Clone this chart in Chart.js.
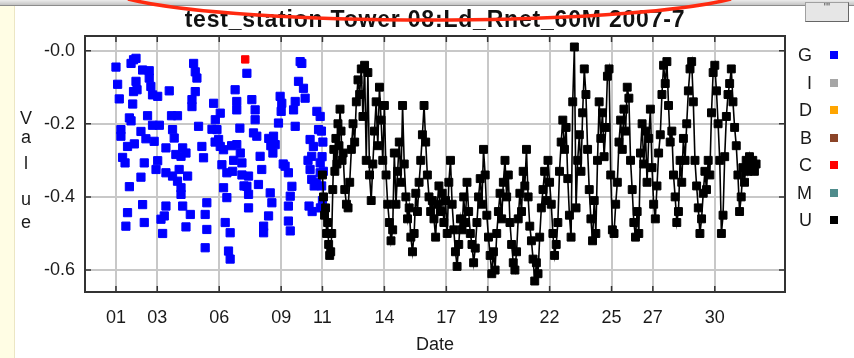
<!DOCTYPE html>
<html>
<head>
<meta charset="utf-8">
<script src="https://cdn.jsdelivr.net/npm/chart.js@4.4.0/dist/chart.umd.min.js"></script>
<style>
  html, body { margin: 0; padding: 0; background: #fff; }
  #wrap { position: relative; width: 854px; height: 358px; overflow: hidden; font-family: "Liberation Sans", Arial, sans-serif; color: #1a1a1a; }
  #chart { position: absolute; left: 0; top: 0; }
  #strip { position: absolute; left: 0; top: 6px; width: 14px; height: 352px; background: #fffde4; border-right: 1px solid #ece6c4; }
  #topbar { position: absolute; left: 0; top: 0; width: 854px; height: 5px; background: linear-gradient(#ececec, #c4c4c4); border-bottom: 1px solid #8c8c8c; }
  #btn { position: absolute; left: 805px; top: 2px; width: 42px; height: 18px; background: #e6e6e6; border: 1px solid #a0a0a0; border-right-color: #666; border-bottom-color: #666; font-size: 11px; line-height: 9px; text-align: center; color: #444; }
  #title { position: absolute; left: 0; top: 6px; width: 870px; text-align: center; font-weight: bold; font-size: 23px; letter-spacing: 0.8px; line-height: 26px; color: #111; }
  #arc { position: absolute; left: 0; top: 0; z-index: 5; }
  .yl { position: absolute; left: 18px; width: 16px; text-align: center; font-size: 18px; line-height: 20px; }
  .lg { position: absolute; left: 786px; width: 26px; text-align: right; font-size: 18px; line-height: 20px; }
  .lb { position: absolute; left: 830px; width: 8px; height: 8px; }
</style>
</head>
<body>
<div id="wrap">
  <canvas id="chart" width="854" height="358"></canvas>
  <div id="strip"></div>
  <div id="title">test_station Tower 08:Ld_Rnet_60M 2007-7</div>
  <div class="yl" style="top:108px">V</div>
  <div class="yl" style="top:127px">a</div>
  <div class="yl" style="top:153px">l</div>
  <div class="yl" style="top:189px">u</div>
  <div class="yl" style="top:212px">e</div>
  <div id="legend"></div>
  <div id="topbar"></div>
  <div id="btn">'''</div>
  <svg id="arc" width="854" height="40"><path d="M 128 -1 C 240 27, 620 27, 731 -1" fill="none" stroke="#ff2a10" stroke-width="3.5"/></svg>
</div>
<script>
// x tick positions (day of month) and labels
const xTicks = [1, 3, 6, 9, 11, 14, 17, 19, 22, 25, 27, 30];
const xTickLabels = ["01", "03", "06", "09", "11", "14", "17", "19", "22", "25", "27", "30"];
const yTicks = [0, -0.2, -0.4, -0.6];
const yTickLabels = ["-0.0", "-0.2", "-0.4", "-0.6"];

const legendNames = ["G", "I", "D", "B", "C", "M", "U"];
const legendColors = ["#0000ff", "#a6a6a6", "#ffa500", "#8b4428", "#ff0000", "#4f8c8c", "#000000"];

// G series (blue, points only)
const gDays = [1.00, 1.08, 1.16, 1.24, 1.24, 1.32, 1.44, 1.48, 1.56, 1.56, 1.65, 1.65, 1.73, 1.73, 1.81, 1.85, 1.85, 1.89, 1.97, 1.97,
  2.02, 2.21, 2.21, 2.29, 2.29, 2.37, 2.37, 2.45, 2.53, 2.61, 2.61, 2.69, 2.77, 2.77, 2.85, 2.94, 3.02, 3.02, 3.10, 3.18,
  3.26, 3.34, 3.42, 3.42, 3.42, 3.58, 3.69, 3.74, 3.74, 3.82, 3.90, 3.98, 3.98, 4.06, 4.15, 4.15, 4.15, 4.23, 4.23, 4.39,
  4.39, 4.47, 4.60, 4.68, 4.68, 4.76, 4.84, 4.84, 4.92, 5.00, 5.16, 5.24, 5.32, 5.32, 5.40, 5.40, 5.65, 5.73, 5.80, 5.81,
  5.89, 5.97, 6.05, 6.05, 6.13, 6.21, 6.21, 6.29, 6.37, 6.37, 6.45, 6.53, 6.53, 6.60, 6.65, 6.70, 6.77, 6.85, 6.85, 6.85,
  7.00, 7.02, 7.10, 7.10, 7.20, 7.34, 7.34, 7.42, 7.42, 7.42, 7.58, 7.66, 7.74, 7.74, 7.82, 7.90, 7.98, 8.06, 8.15, 8.15,
  8.39, 8.40, 8.47, 8.50, 8.55, 8.60, 8.63, 8.71, 8.87, 8.95, 9.00, 9.03, 9.10, 9.19, 9.35, 9.35, 9.35, 9.44, 9.44, 9.52,
  9.60, 9.68, 9.68, 9.84, 9.92, 10.00, 10.08, 10.16, 10.30, 10.35, 10.40, 10.40, 10.48, 10.48, 10.50, 10.56, 10.60, 10.70, 10.73, 10.81,
  10.89, 10.89, 10.89, 10.95, 11.02, 10.98, 11.04, 10.96, 11.00, 10.90];
const gValues = [-0.045, -0.092, -0.132, -0.216, -0.234, -0.292, -0.307, -0.480, -0.443, -0.262, -0.184, -0.372, -0.192, -0.035, -0.146, -0.025, -0.112, -0.255, -0.021, -0.084,
  -0.107, -0.221, -0.346, -0.053, -0.421, -0.307, -0.470, -0.241, -0.178, -0.055, -0.075, -0.098, -0.121, -0.204, -0.248, -0.325, -0.125, -0.301, -0.204, -0.461,
  -0.500, -0.452, -0.266, -0.334, -0.425, -0.110, -0.178, -0.216, -0.343, -0.239, -0.284, -0.178, -0.357, -0.325, -0.289, -0.375, -0.393, -0.266, -0.425, -0.280,
  -0.482, -0.343, -0.448, -0.134, -0.153, -0.035, -0.058, -0.112, -0.075, -0.207, -0.262, -0.293, -0.448, -0.539, -0.416, -0.489, -0.215, -0.144, -0.250, -0.189,
  -0.216, -0.243, -0.171, -0.262, -0.312, -0.271, -0.375, -0.470, -0.334, -0.402, -0.548, -0.498, -0.570, -0.260, -0.330, -0.300, -0.107, -0.139, -0.162, -0.257,
  -0.212, -0.280, -0.307, -0.340, -0.370, -0.062, -0.371, -0.343, -0.393, -0.430, -0.134, -0.225, -0.162, -0.189, -0.234, -0.366, -0.289, -0.325, -0.480, -0.498,
  -0.452, -0.240, -0.389, -0.260, -0.416, -0.280, -0.234, -0.257, -0.198, -0.125, -0.166, -0.144, -0.310, -0.316, -0.334, -0.425, -0.466, -0.398, -0.493, -0.371,
  -0.162, -0.139, -0.207, -0.084, -0.030, -0.035, -0.103, -0.130, -0.300, -0.425, -0.243, -0.325, -0.289, -0.352, -0.440, -0.262, -0.370, -0.360, -0.166, -0.216,
  -0.180, -0.307, -0.334, -0.220, -0.250, -0.290, -0.330, -0.370, -0.410, -0.430];

// C series (red)
const cDays = [7.26];
const cValues = [-0.024];

// U series (black, joined)
const uDays = [11.00, 11.05, 11.10, 11.15, 11.20, 11.25, 11.30, 11.35, 11.40, 11.45, 11.50, 11.55, 11.60, 11.65, 11.70, 11.75, 11.80, 11.85, 11.90, 11.95,
  12.00, 12.08, 12.16, 12.24, 12.32, 12.40, 12.48, 12.56, 12.64, 12.72, 12.80, 12.88, 12.96,
  13.04, 13.12, 13.20, 13.28, 13.36, 13.44, 13.52, 13.60, 13.68, 13.76, 13.84, 13.92,
  14.00, 14.08, 14.16, 14.24, 14.32, 14.40, 14.48, 14.56, 14.64, 14.72, 14.80, 14.88, 14.96,
  15.04, 15.12, 15.20, 15.28, 15.36, 15.44, 15.52, 15.60, 15.68, 15.76, 15.84, 15.92,
  16.00, 16.08, 16.16, 16.24, 16.32, 16.40, 16.48, 16.56, 16.64, 16.72, 16.80, 16.88, 16.96,
  17.04, 17.12, 17.20, 17.28, 17.36, 17.44, 17.52, 17.60, 17.68, 17.76, 17.84, 17.92,
  18.00, 18.08, 18.16, 18.24, 18.32, 18.40, 18.48, 18.56, 18.64, 18.72, 18.80, 18.88, 18.96,
  19.04, 19.12, 19.20, 19.28, 19.36, 19.44, 19.52, 19.60, 19.68, 19.76, 19.84, 19.92,
  20.00, 20.08, 20.16, 20.24, 20.32, 20.40, 20.48, 20.56, 20.64, 20.72, 20.80, 20.88, 20.96,
  21.04, 21.12, 21.20, 21.28, 21.36, 21.44, 21.52, 21.60, 21.68, 21.76, 21.84, 21.92,
  22.00, 22.08, 22.16, 22.24, 22.32, 22.40, 22.48, 22.56, 22.64, 22.72, 22.80, 22.88, 22.96,
  23.04, 23.12, 23.20, 23.28, 23.36, 23.44, 23.52, 23.60, 23.68, 23.76, 23.84, 23.92,
  24.00, 24.08, 24.16, 24.24, 24.32, 24.40, 24.48, 24.56, 24.64, 24.72, 24.80, 24.88, 24.96,
  25.04, 25.12, 25.20, 25.28, 25.36, 25.44, 25.52, 25.60, 25.68, 25.76, 25.84, 25.92,
  26.00, 26.08, 26.16, 26.24, 26.32, 26.40, 26.48, 26.56, 26.64, 26.72, 26.80, 26.88, 26.96,
  27.04, 27.12, 27.20, 27.28, 27.36, 27.44, 27.52, 27.60, 27.68, 27.76, 27.84, 27.92,
  28.00, 28.08, 28.16, 28.24, 28.32, 28.40, 28.48, 28.56, 28.64, 28.72, 28.80, 28.88, 28.96,
  29.04, 29.12, 29.20, 29.28, 29.36, 29.44, 29.52, 29.60, 29.68, 29.76, 29.84, 29.92,
  30.00, 30.08, 30.16, 30.24, 30.32, 30.40, 30.48, 30.56, 30.64, 30.72, 30.80, 30.88, 30.96,
  31.04, 31.12, 31.20, 31.28, 31.36, 31.44, 31.52, 31.60, 31.68, 31.76, 31.84, 31.92,
  32.00];
const uValues = [-0.34, -0.40, -0.45, -0.43, -0.50, -0.47, -0.53, -0.56, -0.55, -0.50, -0.38, -0.27, -0.33, -0.24, -0.31, -0.20, -0.26, -0.16, -0.22, -0.30,
  -0.28, -0.38, -0.42, -0.43, -0.36, -0.27, -0.20, -0.25, -0.14, -0.08, -0.12, -0.05, -0.18,
  -0.04, -0.30, -0.06, -0.34, -0.41, -0.31, -0.22, -0.14, -0.26, -0.10, -0.19, -0.30,
  -0.15, -0.34, -0.42, -0.47, -0.52, -0.49, -0.28, -0.42, -0.33, -0.25, -0.36, -0.15, -0.31,
  -0.40, -0.46, -0.43, -0.51, -0.55, -0.50, -0.39, -0.44, -0.36, -0.30, -0.23, -0.15,
  -0.25, -0.34, -0.40, -0.44, -0.41, -0.46, -0.51, -0.42, -0.37, -0.44, -0.39, -0.47, -0.41,
  -0.50, -0.36, -0.30, -0.42, -0.49, -0.55, -0.59, -0.53, -0.46, -0.49, -0.40, -0.47,
  -0.36, -0.44, -0.50, -0.53, -0.58, -0.54, -0.47, -0.40, -0.35, -0.42, -0.27, -0.34, -0.45,
  -0.51, -0.56, -0.61, -0.55, -0.60, -0.50, -0.44, -0.39, -0.46, -0.36, -0.30, -0.40,
  -0.34, -0.47, -0.53, -0.58, -0.60, -0.55, -0.46, -0.39, -0.44, -0.33, -0.37, -0.27, -0.40,
  -0.48, -0.52, -0.57, -0.63, -0.58, -0.61, -0.51, -0.43, -0.38, -0.33, -0.41, -0.30,
  -0.36, -0.42, -0.50, -0.56, -0.53, -0.47, -0.33, -0.25, -0.19, -0.27, -0.21, -0.35, -0.45,
  -0.51, -0.14, 0.01, -0.43, -0.30, -0.23, -0.33, -0.17, -0.05, -0.12, -0.27, -0.38,
  -0.46, -0.52, -0.41, -0.50, -0.30, -0.14, -0.24, -0.17, -0.29, -0.21, -0.07, -0.05, -0.34,
  -0.49, -0.50, -0.42, -0.36, -0.25, -0.19, -0.27, -0.16, -0.22, -0.10, -0.13, -0.30,
  -0.38, -0.47, -0.51, -0.44, -0.50, -0.28, -0.20, -0.31, -0.22, -0.36, -0.24, -0.16, -0.32,
  -0.42, -0.46, -0.37, -0.28, -0.23, -0.12, -0.04, -0.09, -0.03, -0.15, -0.25, -0.22,
  -0.34, -0.40, -0.47, -0.44, -0.30, -0.36, -0.24, -0.30, -0.20, -0.11, -0.05, -0.03, -0.14,
  -0.30, -0.37, -0.43, -0.50, -0.46, -0.39, -0.33, -0.38, -0.30, -0.34, -0.17, -0.06,
  -0.04, -0.11, -0.20, -0.30, -0.50, -0.45, -0.29, -0.18, -0.12, -0.09, -0.05, -0.14, -0.21,
  -0.26, -0.34, -0.44, -0.40, -0.32, -0.36, -0.30, -0.33, -0.29, -0.32, -0.30, -0.33,
  -0.31];

// legend on the right
const legendEl = document.getElementById("legend");
legendNames.forEach((name, i) => {
  const cy = 55 + i * 27.5;
  const t = document.createElement("div");
  t.className = "lg";
  t.style.top = (cy - 10) + "px";
  t.textContent = name;
  legendEl.appendChild(t);
  const b = document.createElement("div");
  b.className = "lb";
  b.style.top = (cy - 4) + "px";
  b.style.background = legendColors[i];
  legendEl.appendChild(b);
});

const toPoints = (xs, ys) => xs.map((x, i) => ({ x: x, y: ys[i] }));

// frame round the plot + small inward tick marks
const framePlugin = {
  id: "frame",
  afterDraw(chart) {
    const { ctx, chartArea: a, scales: { x, y } } = chart;
    ctx.save();
    ctx.strokeStyle = "#333";
    ctx.lineWidth = 2;
    ctx.strokeRect(a.left, a.top, a.right - a.left, a.bottom - a.top);
    ctx.lineWidth = 1.5;
    ctx.beginPath();
    xTicks.forEach(v => {
      const px = x.getPixelForValue(v);
      ctx.moveTo(px, a.top); ctx.lineTo(px, a.top + 6);
      ctx.moveTo(px, a.bottom); ctx.lineTo(px, a.bottom - 6);
    });
    yTicks.forEach(v => {
      const py = y.getPixelForValue(v);
      ctx.moveTo(a.left, py); ctx.lineTo(a.left + 6, py);
      ctx.moveTo(a.right, py); ctx.lineTo(a.right - 6, py);
    });
    ctx.stroke();
    ctx.restore();
  }
};

new Chart(document.getElementById("chart"), {
  type: "scatter",
  data: {
    datasets: [
      { label: "U", data: toPoints(uDays, uValues), showLine: true, borderColor: "#000", borderWidth: 1.6,
        pointStyle: "rect", pointRadius: 5.6, pointBackgroundColor: "#000", pointBorderColor: "#000", pointBorderWidth: 1 },
      { label: "G", data: toPoints(gDays, gValues), showLine: false,
        pointStyle: "rect", pointRadius: 5.8, pointBackgroundColor: "#0000ff", pointBorderColor: "#0000ff", pointBorderWidth: 1 },
      { label: "C", data: toPoints(cDays, cValues), showLine: false,
        pointStyle: "rect", pointRadius: 5.2, pointBackgroundColor: "#ff0000", pointBorderColor: "#ff0000", pointBorderWidth: 1 }
    ]
  },
  options: {
    responsive: false,
    animation: false,
    layout: { padding: { top: 36, right: 69, left: 0, bottom: 0 } },
    plugins: { legend: { display: false }, tooltip: { enabled: false } },
    scales: {
      x: {
        type: "linear", min: -0.5, max: 33.4,
        afterBuildTicks: s => { s.ticks = xTicks.map(v => ({ value: v })); },
        afterFit: s => { s.height = 66; },
        ticks: { padding: 15, color: "#1a1a1a", font: { family: "Liberation Sans", size: 18 },
          callback: (v) => xTickLabels[xTicks.indexOf(v)] },
        grid: { color: "#c8c8c8", lineWidth: 2, drawTicks: false },
        border: { display: false },
        title: { display: true, text: "Date", color: "#1a1a1a", font: { family: "Liberation Sans", size: 18 }, padding: { top: 0, bottom: 2 } }
      },
      y: {
        min: -0.66, max: 0.04,
        afterBuildTicks: s => { s.ticks = yTicks.map(v => ({ value: v })); },
        afterFit: s => { s.width = 85; },
        ticks: { padding: 10, color: "#1a1a1a", font: { family: "Liberation Sans", size: 18 },
          callback: (v) => yTickLabels[yTicks.indexOf(v)] },
        grid: { color: "#c8c8c8", lineWidth: 2, drawTicks: false },
        border: { display: false }
      }
    }
  },
  plugins: [framePlugin]
});
</script>
</body>
</html>
